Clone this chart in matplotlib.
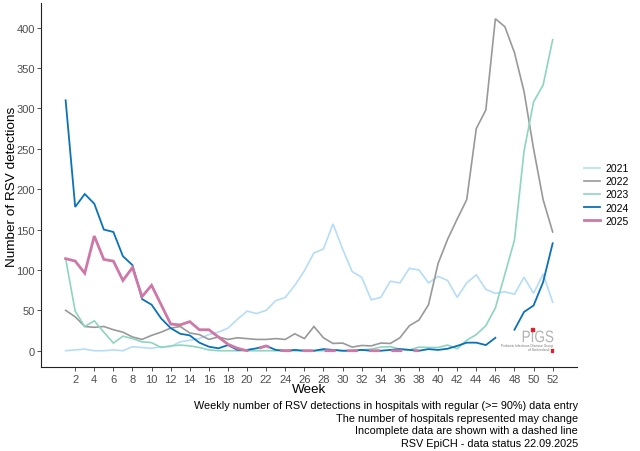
import numpy as np
import matplotlib
matplotlib.use("Agg")
import matplotlib.pyplot as plt
from matplotlib.lines import Line2D
from matplotlib.textpath import TextPath
from matplotlib.patches import PathPatch
from matplotlib.font_manager import FontProperties
from matplotlib.transforms import Affine2D, IdentityTransform

plt.rcParams['font.family'] = ['Liberation Sans', 'DejaVu Sans']

weeks = list(range(1, 53))

y2021 = [0, 1, 2, 0, 0, 1, 0, 5, 4, 3, 5, 5, 11, 13, 15, 20, 23, 28, 39, 49,
         46, 50, 62, 66, 81, 99, 121, 126, 157, 126, 98, 91, 63, 66, 86, 84, 102, 100, 84, 92,
         87, 66, 84, 94, 76, 71, 73, 70, 91, 71, 95, 60]
y2022 = [50, 42, 30, 29, 30, 26, 23, 17, 14, 19, 23, 28, 30, 22, 20, 14, 17, 14, 16, 15,
         14, 14, 15, 14, 21, 15, 30, 16, 9, 9.5, 4.5, 6.5, 6, 9.5, 9, 16, 31, 38, 57, 108,
         138, 163, 187, 275, 298, 411, 401, 369, 321, 250, 187, 147]
y2023 = [114, 49, 30, 37, 23, 9.5, 18, 15, 11, 10, 4, 6, 7, 6, 4, 1, 0, 0, 0, 0,
         0, 0, 0, 0, 0, 0, 0, 0, 1, 0, 0, 1, 2, 4.5, 5, 2, 1, 4.5, 4, 4,
         7, 2.5, 13, 20, 31, 53, 95, 137, 247, 308, 329, 385]
y2024 = [310, 178, 194, 182, 150, 147, 117, 106, 64, 57, 40, 28, 21, 19, 10, 5, 3, 7, 1, 1,
         3, 6, 1, 0, 1, 0, 0, 2, 1, 0, 0, 1, 0, 0, 1, 2, 1, 0, 2, 1,
         2.5, 6, 10, 10, 7, 16, np.nan, 26, 48, 56, 85, 133]
y2025 = [114, 111, 96, 142, 113, 111, 87, 103, 67, 81, 57, 33, 32, 36, 26, 26, 17, 8, 3, 0,
         2, 6, 1, 0, 0, 0, 0, 0, 0, 0, 0, 0, 0, 0, 0, 0, 0, 0]
solid_until_2025 = 19

years = ['2021', '2022', '2023', '2024', '2025']
colors = ['#B5DDF7', '#999999', '#8DD5BF', '#0A72B8', '#CE78A8']
widths = [1.2, 1.2, 1.2, 1.3, 2.0]

caption = ["Weekly number of RSV detections in hospitals with regular (>= 90%) data entry",
           "The number of hospitals represented may change",
           "Incomplete data are shown with a dashed line",
           "RSV EpiCH - data status 22.09.2025"]

W, H = 640, 452
fig = plt.figure(figsize=(6.4, 4.52), dpi=100)
ax = fig.add_axes([0.0645, 0.1852, 0.9016 - 0.0645, 0.9912 - 0.1852])

series = [y2021, y2022, y2023, y2024]
for s, c, w in zip(series, colors[:4], widths[:4]):
    ax.plot(weeks[:len(s)], s, color=c, lw=w, solid_joinstyle='miter', zorder=2)

w25 = weeks[:len(y2025)]
ax.plot(w25[:solid_until_2025], y2025[:solid_until_2025], color=colors[4], lw=widths[4],
        solid_joinstyle='miter', zorder=3)
ax.plot(w25[solid_until_2025 - 1:], y2025[solid_until_2025 - 1:], color=colors[4], lw=widths[4],
        linestyle=(0, (4, 4)), zorder=3)

ax.set_xlim(-1.55, 54.55)
ax.set_ylim(-20.5, 430.5)
ax.set_xticks(list(range(2, 53, 2)))
ax.set_yticks(list(range(0, 401, 50)))
ax.tick_params(axis='both', labelsize=8, colors='#333333', labelcolor='#4D4D4D', length=3,
               width=0.6, pad=1.5)
for sp in ['top', 'right']:
    ax.spines[sp].set_visible(False)
for sp in ['left', 'bottom']:
    ax.spines[sp].set_linewidth(0.8)
    ax.spines[sp].set_color('#222222')

fig.text(309 / W, 1 - 390 / H, 'Week', fontsize=9.7, ha='center', va='center')
fig.text(12 / W, 1 - 187 / H, 'Number of RSV detections', fontsize=9.7, ha='center',
         va='center', rotation=90)

# logo: "PIGS" drawn as a narrow text path
tp = TextPath((0, 0), 'PIGS', size=10, prop=FontProperties(family='Liberation Sans'))
ext = tp.get_extents()
x0, x1 = 522.7, 553.3
top, base = H - 331.5, H - 343.3
sx = (x1 - x0) / ext.width
sy = (top - base) / ext.height
tr = Affine2D().translate(-ext.x0, -ext.y0).scale(sx, sy).translate(x0, base)
fig.patches.append(PathPatch(tr.transform_path(tp), transform=IdentityTransform(),
                             facecolor='#B3B3B3', edgecolor='none', figure=fig))
fig.text(553.3 / W, 1 - 346 / H, 'Pediatric Infectious Disease Group', fontsize=2.4,
         color='#777777', ha='right', va='center')
fig.text(549 / W, 1 - 350.5 / H, 'of Switzerland', fontsize=2.4,
         color='#777777', ha='right', va='center')
fig.patches.append(plt.Rectangle((531.3 / W, 1 - 332 / H), 2.3 / W, 3 / H,
                                 transform=fig.transFigure, color='#E0202A', figure=fig))
fig.patches.append(plt.Rectangle((550.5 / W, 1 - 352.5 / H), 2.3 / W, 2.3 / H,
                                 transform=fig.transFigure, color='#E0202A', figure=fig))

handles = [Line2D([], [], color=c, lw=w) for c, w in zip(colors, widths)]
fig.legend(handles, years, loc='center left', bbox_to_anchor=(584 / W, 1 - 195.5 / H),
           frameon=False, fontsize=7.5, handlelength=1.5, handletextpad=0.6, labelspacing=0.3,
           borderpad=0, borderaxespad=0)

for i, line in enumerate(caption):
    fig.text(578 / W, 1 - (406 + 12.7 * i) / H, line, fontsize=7.85, ha='right', va='center',
             color='black')

fig.savefig('out.png', dpi=100)
